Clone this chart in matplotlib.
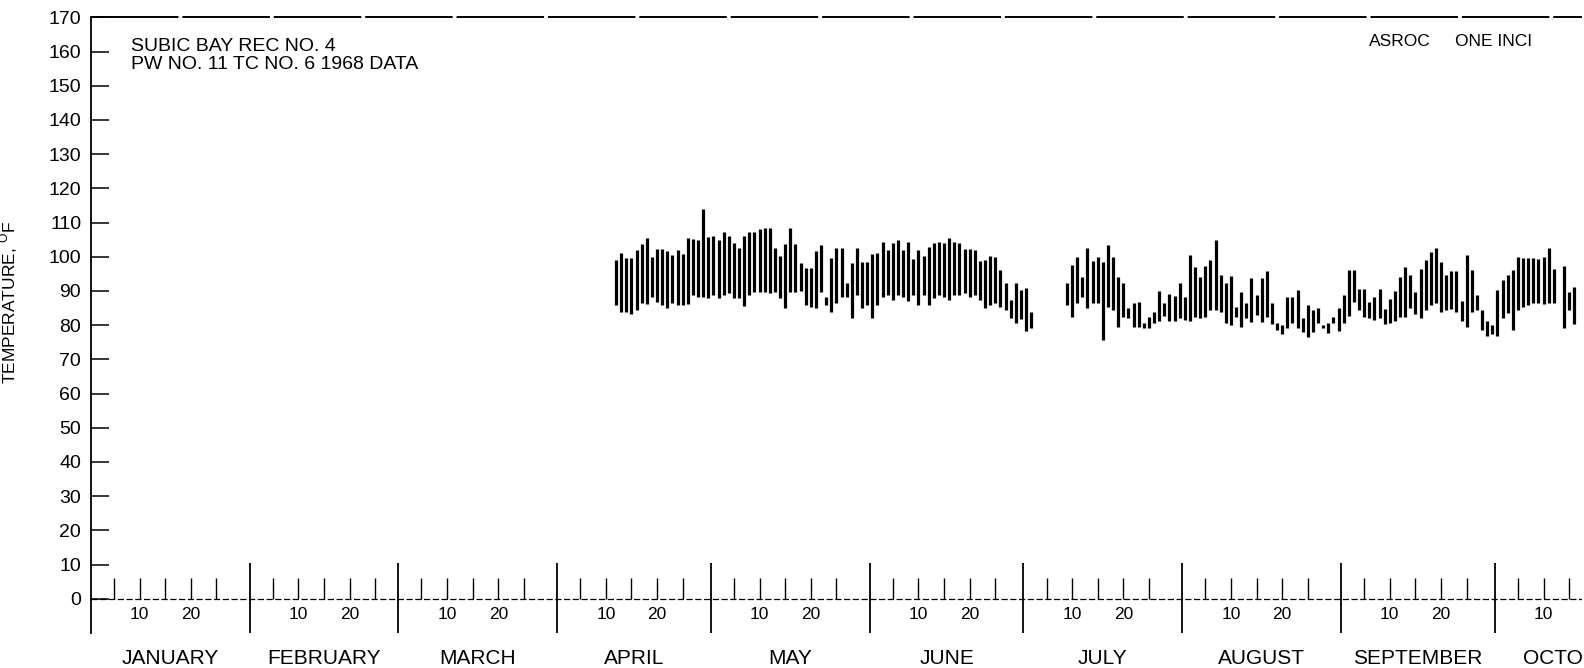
import matplotlib
matplotlib.use('Agg')

import numpy as np
import matplotlib.pyplot as plt
from datetime import date

plt.rcParams['font.family'] = ['Liberation Sans', 'DejaVu Sans']

YEAR = 1968
MONTHS = ['JANUARY', 'FEBRUARY', 'MARCH', 'APRIL', 'MAY', 'JUNE',
          'JULY', 'AUGUST', 'SEPTEMBER', 'OCTOBER']

# daily max / min temperature (deg F), first record starts Apr 12
seg1_start = date(YEAR, 4, 12)
seg1_hi = [99.1, 101.0, 99.7, 99.7, 102.0, 103.6, 105.4, 100.0, 102.2, 102.2,
           101.8, 100.5, 102.0, 100.7, 105.4, 105.1, 104.9, 113.9, 105.9, 106.2,
           104.9, 107.1, 106.2, 103.9, 102.5, 106.2, 107.1, 107.1, 108.1, 108.3,
           108.5, 102.7, 100.3, 103.7, 108.5, 103.7, 98.1, 96.6, 96.6, 101.8,
           103.5, 88.3, 99.7, 102.5, 102.5, 92.3, 98.1, 102.7, 98.6, 98.4,
           100.7, 101.0, 104.4, 102.0, 103.9, 104.9, 102.0, 104.4, 99.4, 102.0,
           100.3, 103.0,
           103.9, 104.4, 103.9, 105.6, 104.4, 103.9, 102.2, 102.2, 102.0, 98.8,
           99.1, 100.3, 100.0, 96.2, 92.3, 87.4, 92.3, 90.3, 90.8, 84.0]
seg1_lo = [85.9, 84.0, 84.0, 83.3, 84.5, 86.4, 86.1, 88.3, 86.9, 85.9,
           85.1, 86.4, 85.9, 85.9, 86.1, 88.8, 88.3, 88.3, 87.9, 88.8,
           87.9, 88.8, 89.3, 87.9, 87.9, 85.7, 88.8, 89.6, 89.6, 89.6,
           89.3, 89.8, 87.9, 84.9, 89.8, 89.8, 90.0, 85.9, 85.4, 84.9,
           89.8, 85.9, 83.8, 86.4, 88.3, 88.3, 82.0, 88.8, 84.9, 85.9,
           82.2, 85.9, 88.3, 88.8, 87.4, 88.8, 88.3, 87.1, 88.8, 85.9,
           88.8, 85.9,
           87.9, 88.8, 88.3, 87.4, 88.8, 88.8, 89.3, 88.3, 88.8, 87.4,
           84.9, 85.9, 86.4, 85.4, 84.5, 82.0, 80.6, 81.8, 78.3, 79.1]

# second record starts Jul 9 (None = no reading)
seg2_start = date(YEAR, 7, 9)
seg2_hi = [92.3, 97.6, 100.0, 94.2, 102.5, 98.8,
           100.0, 98.6, 103.5, 100.0, 94.2, 92.3, 84.9, 86.4, 86.7, 80.6,
           82.5, 84.0, 90.0, 86.4, 89.0, 88.6, 92.3, 88.3, 100.5, 97.1,
           94.2, 97.4, 99.1, 104.9, 94.7, 92.3, 94.4, 85.4, 89.8, 86.4,
           93.9, 88.8, 93.9,
           95.9, 86.4, 80.6, 80.1, 88.1, 88.3, 90.3, 82.0, 85.9, 84.5,
           84.9, 80.1, 80.6, 82.5, 84.9, 88.8, 96.2, 96.2, 90.6, 90.6,
           86.7, 88.3, 90.6, 84.7, 87.7, 90.0, 94.2, 97.1, 94.7, 89.8,
           96.4, 99.1,
           101.5, 102.7, 98.6, 94.7, 95.9, 95.9, 87.1, 100.5, 96.2, 88.8,
           84.5, 81.2, 80.1, 90.3, 93.2, 94.7, 96.2, 100.0, 99.6, 99.7,
           99.7, 99.4, 100.0, 102.5, 96.4,
           None, 97.4, 89.8, 91.3]
seg2_lo = [85.9, 82.5, 86.4, 88.3, 84.9, 86.4,
           86.4, 75.7, 85.4, 84.5, 79.6, 82.5, 82.0, 79.6, 79.6, 79.1,
           79.1, 80.6, 81.1, 82.8, 81.1, 81.3, 82.0, 81.5, 81.1, 82.5,
           82.0, 82.5, 84.5, 84.5, 84.0, 80.6, 80.1, 82.5, 79.6, 82.0,
           80.9, 83.0, 80.9,
           82.5, 80.3, 78.6, 77.3, 79.3, 80.6, 79.3, 78.1, 76.4, 77.9,
           80.6, 79.3, 77.6, 80.6, 78.3, 80.6, 82.8, 86.7, 84.5, 82.5,
           82.0, 81.5, 82.2, 80.3, 80.6, 81.3, 82.5, 82.5, 84.9, 83.2,
           82.2, 84.5,
           85.9, 86.4, 84.0, 84.5, 84.7, 84.0, 81.1, 79.6, 84.0, 84.5,
           78.6, 76.7, 77.3, 76.7, 82.2, 83.5, 78.6, 84.5, 85.4, 85.9,
           86.4, 86.4, 86.1, 86.4, 86.4,
           None, 79.1, 84.5, 80.3]

day_ticks = [5, 10, 15, 20, 25]
day_labels = [10, 20]


def doy(d):
    return d.timetuple().tm_yday


def seg_xy(start, hi, lo):
    x = doy(start) - 0.5 + np.arange(len(hi))
    hi = np.array([np.nan if v is None else v for v in hi])
    lo = np.array([np.nan if v is None else v for v in lo])
    ok = ~np.isnan(hi)
    return x[ok], hi[ok], lo[ok]


fig = plt.figure(figsize=(15.84, 6.68), dpi=100)
ax = fig.add_axes([0.0574, 0.0524, 0.9413, 0.9216])

for start, hi, lo in [(seg1_start, seg1_hi, seg1_lo), (seg2_start, seg2_hi, seg2_lo)]:
    x, h, l = seg_xy(start, hi, lo)
    ax.vlines(x, l, h, color='black', lw=2.3)

# month boundaries and day ticks
month_starts = [doy(date(YEAR, m, 1)) - 1 for m in range(1, 11)]
month_starts.append(doy(date(YEAR, 11, 1)) - 1)
for i, ms in enumerate(month_starts[:-1]):
    if i > 0:
        ax.vlines(ms, -10, 10.5, color='black', lw=1.3, clip_on=False)
    ndays = month_starts[i + 1] - ms
    ticks = day_ticks if i < 9 else [5, 10, 15]
    ax.vlines([ms + d - 0.5 for d in ticks], 0, 6, color='black', lw=1.0)
    labs = day_labels if i < 9 else [10]
    for d in labs:
        ax.text(ms + d - 0.5, -4.7, str(d), ha='center', va='center', fontsize=12.5)
    ax.text(ms + ndays / 2, -17.6, MONTHS[i], ha='center', va='center',
            fontsize=15, clip_on=False)

ax.axhline(0, color='black', lw=0.9, ls=(0, (5, 2)))
ax.axhline(170, color='black', lw=1.4, ls=(0, (45, 2)), clip_on=False)

ax.set_xlim(0, 291)
ax.set_ylim(-10, 170)
ax.set_xticks([])
ax.set_yticks(range(0, 171, 10))
ax.tick_params(axis='y', direction='in', length=13, width=1.1, labelsize=14, pad=7)
for s in ['top', 'right', 'bottom']:
    ax.spines[s].set_visible(False)
ax.spines['left'].set_linewidth(1.3)

ax.set_ylabel('TEMPERATURE, $^\\mathregular{O}$F', fontsize=12.5)
ax.yaxis.set_label_coords(-0.0476, 0.536)

ax.text(0.027, 0.938, 'SUBIC BAY REC NO. 4\nPW NO. 11 TC NO. 6 1968 DATA',
        transform=ax.transAxes, ha='left', va='center', fontsize=14,
        linespacing=1.1)
ax.text(0.857, 0.96, 'ASROC', transform=ax.transAxes, ha='left', va='center',
        fontsize=12.5)
ax.text(0.915, 0.96, 'ONE INCI', transform=ax.transAxes, ha='left', va='center',
        fontsize=12.5)

fig.savefig('out.png', dpi=100)
